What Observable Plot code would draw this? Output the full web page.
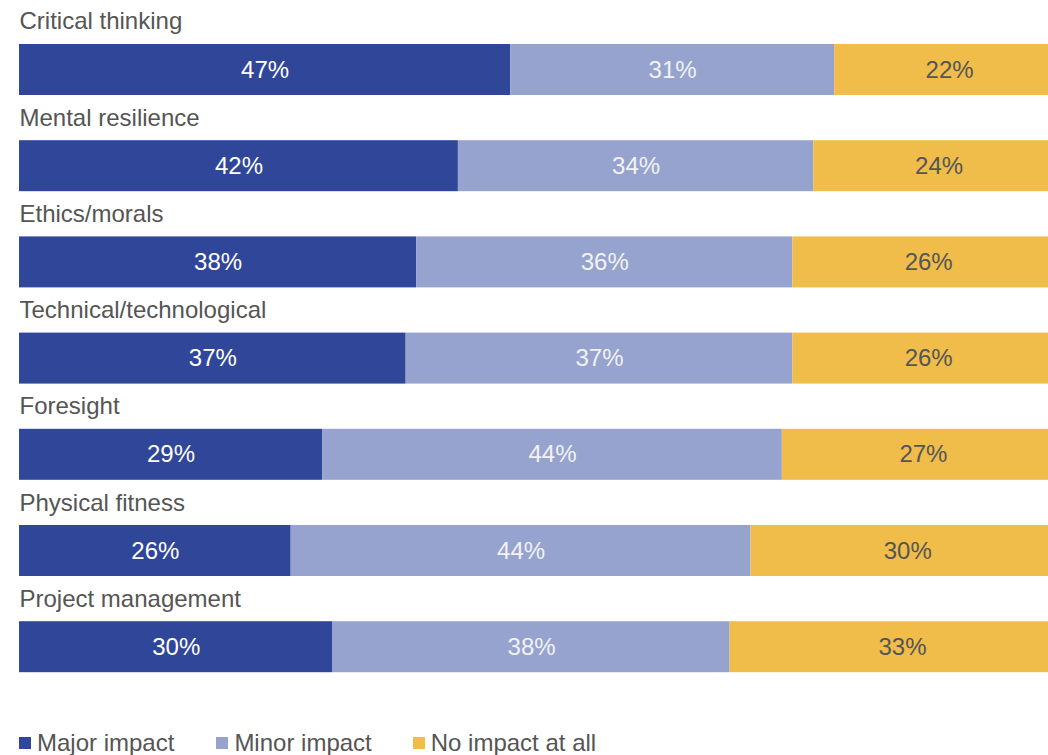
<!DOCTYPE html>
<html>
<head>
<meta charset="utf-8">
<script src="https://cdn.jsdelivr.net/npm/d3@7"></script>
<script src="https://cdn.jsdelivr.net/npm/@observablehq/plot@0.6"></script>
<style>
  body { margin: 0; background: #fff; font-family: "Liberation Sans", Arial, sans-serif; }
  #chart { position: relative; width: 1048px; height: 755px; overflow: hidden; }
  .legend { position: absolute; left: 19px; top: 729px; display: flex; align-items: center; font-size: 24px; color: #555; }
  .legend .item { display: flex; align-items: center; }
  .legend .sw { width: 12px; height: 12px; margin-right: 6px; display: inline-block; }
</style>
</head>
<body>
<div id="chart"></div>
<script>
const categories = ["Critical thinking", "Mental resilience", "Ethics/morals", "Technical/technological", "Foresight", "Physical fitness", "Project management"];
const series = ["Major impact", "Minor impact", "No impact at all"];
const major = [47, 42, 38, 37, 29, 26, 30];
const minor = [31, 34, 36, 37, 44, 44, 38];
const none = [22, 24, 26, 26, 27, 30, 33];
const colors = ["#2F4699", "#96A3CF", "#F0BD4A"];
const textColors = ["#ffffff", "#f2f2f2", "#555555"];

const values = [major, minor, none];
const data = [];
categories.forEach((c, i) => {
  series.forEach((s, j) => data.push({cat: c, type: s, value: values[j][i]}));
});

const plot = Plot.plot({
  width: 1048,
  height: 725,
  marginLeft: 0, marginRight: 0, marginTop: 0, marginBottom: 0,
  style: {fontFamily: "Liberation Sans, Arial, sans-serif", background: "#fff"},
  x: {domain: [0, 100], range: [19, 1064], axis: null},
  y: {domain: categories, range: [44, 672.2], paddingInner: 0.47, paddingOuter: 0, round: false, axis: null},
  color: {domain: series, range: colors},
  marks: [
    Plot.barX(data, Plot.stackX({x: "value", y: "cat", fill: "type", order: series})),
    Plot.text(data, Plot.stackX({
      x: "value", y: "cat", z: "type", order: series,
      text: d => d.value + "%",
      fill: {value: d => textColors[series.indexOf(d.type)], scale: null},
      fontSize: 24
    })),
    Plot.text(categories, {
      x: 0, y: d => d, text: d => d, textAnchor: "start", lineAnchor: "bottom",
      dy: -40.5, fontSize: 24, fill: "#555"
    })
  ]
});
document.getElementById("chart").appendChild(plot);

const legend = document.createElement("div");
legend.className = "legend";
const gaps = [42, 41, 0];
series.forEach((s, j) => {
  const item = document.createElement("div");
  item.className = "item";
  item.style.marginRight = gaps[j] + "px";
  const sw = document.createElement("span");
  sw.className = "sw";
  sw.style.background = colors[j];
  const t = document.createElement("span");
  t.textContent = s;
  item.appendChild(sw);
  item.appendChild(t);
  legend.appendChild(item);
});
document.getElementById("chart").appendChild(legend);
</script>
</body>
</html>
